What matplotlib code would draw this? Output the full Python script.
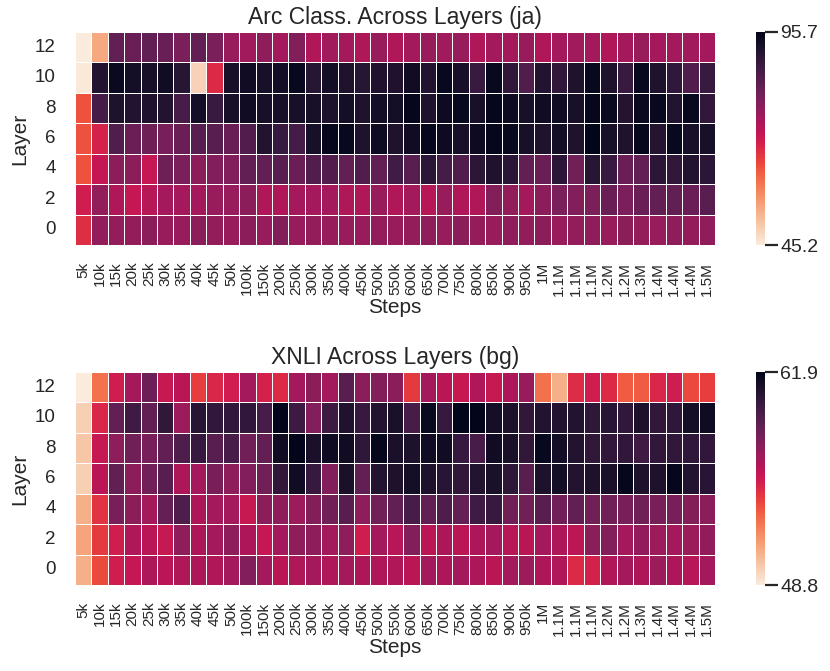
import numpy as np
import matplotlib
matplotlib.use('Agg')
import matplotlib.pyplot as plt
import seaborn as sns

sns.set_theme(style='white')
plt.rcParams['font.family'] = ['Liberation Sans', 'DejaVu Sans']
plt.rcParams['text.color'] = '.15'
plt.rcParams['axes.labelcolor'] = '.15'
plt.rcParams['xtick.color'] = '.15'
plt.rcParams['ytick.color'] = '.15'

# training steps (x axis) and layers (rows, top to bottom)
steps = ['5k', '10k', '15k', '20k', '25k', '30k', '35k', '40k', '45k', '50k',
         '100k', '150k', '200k', '250k', '300k', '350k', '400k', '450k', '500k',
         '550k', '600k', '650k', '700k', '750k', '800k', '850k', '900k', '950k',
         '1M', '1.1M', '1.1M', '1.1M', '1.2M', '1.2M', '1.3M', '1.4M', '1.4M',
         '1.4M', '1.5M']
layers = [12, 10, 8, 6, 4, 2, 0]

# Arc classification accuracy (ja), one row per layer
arc_ja = [
    [45.2, 53.8, 83.0, 82.0, 83.0, 82.0, 80.0, 83.0, 80.0, 76.5, 75.5, 77.5, 75.0, 79.0, 74.0, 75.5, 75.0, 74.0, 76.5,
     74.0, 75.0, 76.5, 75.5, 76.5, 74.0, 75.0, 75.0, 76.5, 74.0, 75.0, 75.5, 75.0, 74.0, 75.0, 76.5, 75.0, 75.0, 75.5, 75.0],
    [45.7, 91.1, 94.4, 93.1, 92.5, 93.4, 90.4, 48.7, 67.9, 92.5, 93.4, 92.5, 93.1, 94.7, 90.4, 93.1, 91.7, 90.4, 91.4,
     91.4, 93.4, 91.1, 94.7, 92.5, 88.1, 94.7, 89.1, 85.1, 91.1, 89.1, 91.7, 94.7, 91.7, 88.1, 94.7, 91.7, 89.1, 85.1, 88.1],
    [63.4, 86.6, 91.7, 91.1, 91.4, 91.1, 86.1, 93.1, 88.1, 92.5, 93.4, 92.5, 92.5, 92.5, 92.5, 91.7, 93.1, 91.7, 93.1,
     93.1, 95.1, 91.7, 94.1, 94.7, 92.5, 95.1, 94.1, 92.5, 93.4, 93.4, 92.5, 95.1, 94.4, 90.8, 94.4, 94.7, 91.1, 94.7, 89.1],
    [63.4, 68.9, 85.1, 82.0, 81.5, 80.5, 82.0, 84.1, 84.1, 82.0, 85.1, 91.1, 88.1, 86.6, 92.5, 95.1, 94.7, 91.7, 93.8,
     91.7, 93.4, 95.1, 94.1, 92.5, 94.1, 95.1, 94.7, 92.5, 91.7, 93.1, 91.7, 95.7, 92.5, 91.7, 95.1, 90.8, 94.7, 92.5, 92.5],
    [63.4, 71.4, 78.0, 78.0, 71.4, 81.5, 80.0, 78.0, 79.0, 79.0, 83.0, 83.0, 84.1, 82.0, 85.1, 85.1, 83.0, 85.1, 83.0,
     87.1, 84.1, 89.8, 86.6, 85.1, 89.8, 91.4, 89.8, 83.0, 82.0, 89.8, 81.0, 90.4, 88.1, 82.0, 83.0, 89.8, 89.1, 91.1, 89.8],
    [69.9, 77.0, 74.0, 71.4, 72.9, 75.0, 75.0, 75.0, 76.5, 76.5, 78.0, 74.0, 74.0, 75.0, 75.0, 75.0, 74.0, 74.0, 76.5,
     74.0, 75.0, 72.9, 76.5, 74.0, 74.0, 79.0, 77.0, 75.0, 78.0, 80.0, 79.0, 80.0, 82.0, 80.0, 82.0, 83.0, 83.0, 82.0, 84.1],
    [67.4, 77.0, 77.0, 77.0, 78.0, 76.5, 76.5, 78.0, 77.0, 76.5, 78.0, 76.5, 79.0, 76.5, 77.0, 76.5, 76.5, 76.5, 77.0,
     76.5, 77.0, 77.5, 76.5, 78.0, 77.0, 76.5, 77.5, 77.0, 78.0, 76.5, 77.0, 77.5, 76.5, 78.0, 77.0, 76.5, 77.5, 77.0, 77.5],
]

# XNLI accuracy (bg), one row per layer
xnli_bg = [
    [48.8, 52.7, 55.2, 56.6, 58.3, 55.5, 55.9, 54.1, 54.8, 55.2, 56.6, 55.0, 54.7, 56.6, 57.3, 56.6, 58.9, 57.3, 57.6,
     57.3, 54.2, 56.6, 55.9, 55.5, 56.2, 55.5, 56.3, 56.9, 52.7, 50.8, 54.6, 55.2, 54.7, 53.3, 53.3, 54.8, 55.2, 53.8, 54.1],
    [49.8, 54.8, 58.6, 59.7, 58.6, 60.2, 56.8, 60.5, 60.2, 60.2, 60.2, 59.4, 61.9, 59.8, 57.6, 59.8, 60.8, 60.0, 60.7,
     61.0, 59.4, 61.5, 60.0, 61.9, 61.9, 61.2, 60.9, 60.2, 60.7, 60.7, 60.7, 60.3, 60.5, 60.2, 60.9, 60.2, 60.3, 61.2, 61.4],
    [50.1, 55.5, 57.2, 58.1, 57.9, 58.6, 59.2, 60.0, 58.9, 59.4, 58.1, 58.6, 61.3, 61.9, 61.0, 61.4, 61.3, 60.3, 61.7,
     61.0, 60.9, 61.3, 61.3, 60.0, 59.4, 61.3, 61.0, 60.2, 61.6, 61.2, 60.7, 60.2, 60.2, 60.2, 59.7, 60.2, 60.2, 60.3, 60.2],
    [49.8, 55.9, 58.6, 57.3, 58.1, 58.9, 56.3, 56.6, 57.9, 57.2, 57.6, 58.1, 60.2, 61.3, 60.0, 57.6, 61.0, 58.6, 60.7,
     60.9, 61.2, 60.9, 60.5, 60.2, 60.7, 61.0, 60.3, 58.9, 60.9, 61.2, 60.7, 60.9, 61.0, 61.7, 60.9, 60.9, 61.7, 60.7, 60.5],
    [50.8, 54.4, 57.9, 57.3, 56.6, 58.5, 59.2, 56.3, 56.6, 56.6, 55.5, 57.3, 57.2, 56.8, 57.6, 58.1, 58.9, 57.2, 58.1,
     58.6, 59.4, 58.6, 59.2, 58.5, 59.7, 60.0, 58.1, 58.1, 58.9, 58.1, 58.6, 58.1, 58.1, 57.9, 58.1, 57.9, 57.9, 57.6, 57.3],
    [51.2, 54.2, 55.2, 56.2, 55.9, 55.5, 57.2, 56.3, 56.6, 57.2, 56.3, 55.6, 56.6, 57.2, 57.2, 56.6, 57.2, 55.2, 56.6,
     56.0, 57.6, 55.9, 56.3, 55.9, 56.3, 56.6, 56.0, 55.9, 56.6, 56.3, 55.8, 57.3, 57.6, 56.6, 57.1, 56.8, 56.6, 56.8, 57.1],
    [50.8, 53.8, 55.2, 55.6, 56.3, 55.9, 56.2, 56.3, 56.2, 56.6, 57.6, 56.6, 55.9, 56.2, 56.6, 56.2, 56.6, 56.3, 56.2,
     56.2, 55.9, 56.6, 56.3, 56.6, 56.3, 55.9, 56.6, 56.8, 56.3, 56.2, 54.7, 55.0, 56.2, 56.6, 56.3, 56.8, 56.3, 56.0, 56.6],
]

W, H = 830, 671
fig = plt.figure(figsize=(W / 100, H / 100), dpi=100)


def draw(data, title, top_px):
    data = np.array(data)
    ax = fig.add_axes([75 / W, 1 - (top_px + 213) / H, 640 / W, 213 / H])
    cax = fig.add_axes([756 / W, 1 - (top_px + 213) / H, 9 / W, 213 / H])
    vmin, vmax = data.min(), data.max()
    sns.heatmap(data, ax=ax, cbar_ax=cax, cmap='rocket_r', vmin=vmin, vmax=vmax,
                linewidths=0.5, linecolor='white',
                xticklabels=steps, yticklabels=layers)
    ax.set_title(title, fontsize=16.5, pad=6)
    ax.set_xlabel('Steps', fontsize=15, labelpad=2)
    ax.set_ylabel('Layer', fontsize=15)
    ax.tick_params(axis='x', length=0, labelsize=11, rotation=90, pad=12)
    ax.tick_params(axis='y', length=0, labelsize=13.5, rotation=0, pad=14)
    cax.set_yticks([vmin, vmax])
    cax.set_yticklabels([f'{vmin:.1f}', f'{vmax:.1f}'])
    cax.tick_params(right=True, length=9, width=1.6, labelsize=14, pad=2)


draw(arc_ja, 'Arc Class. Across Layers (ja)', 32)
draw(xnli_bg, 'XNLI Across Layers (bg)', 372)

fig.savefig('out.png', dpi=100)
